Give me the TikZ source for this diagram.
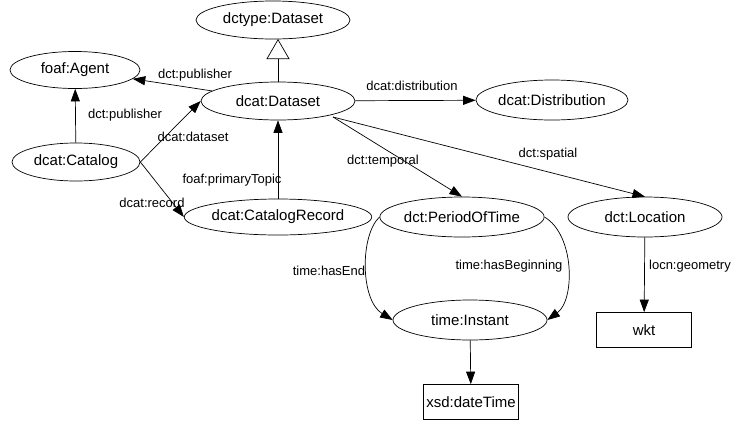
\documentclass[tikz,border=0pt]{standalone}
\usepackage{fontspec}
\setmainfont{Liberation Sans}
\usetikzlibrary{arrows.meta,shapes.geometric}
\begin{document}
\begin{tikzpicture}[x=1pt,y=-1pt,
  ell/.style={draw,ellipse,line width=0.7pt,inner sep=0pt,font=\fontsize{15}{17}\selectfont},
  rbox/.style={draw,rectangle,line width=0.7pt,inner sep=0pt,minimum width=95pt,minimum height=35pt,font=\fontsize{15}{17}\selectfont},
  edge/.style={line width=0.7pt,-{Triangle[length=12.5pt,width=9pt]}},
  lbl/.style={font=\fontsize{13}{15}\selectfont,inner sep=0pt}]
\useasboundingbox (0,0) rectangle (732,421);
\node[ell,minimum width=154pt,minimum height=38pt] (dctype) at (273,20) {dctype:Dataset};
\node[ell,minimum width=130pt,minimum height=37pt] (agent) at (75,70) {foaf:Agent};
\node[ell,minimum width=154pt,minimum height=38pt] (dataset) at (278,101) {dcat:Dataset};
\node[ell,minimum width=128pt,minimum height=38pt] (catalog) at (76,162) {dcat:Catalog};
\node[ell,minimum width=152pt,minimum height=36pt] (record) at (278,217) {dcat:CatalogRecord};
\node[ell,minimum width=152pt,minimum height=40pt] (distr) at (552,100) {dcat:Distribution};
\node[ell,minimum width=152pt,minimum height=40pt] (period) at (462,217) {dct:PeriodOfTime};
\node[ell,minimum width=154pt,minimum height=40pt] (loc) at (645,217) {dct:Location};
\node[ell,minimum width=154pt,minimum height=40pt] (instant) at (470,320) {time:Instant};
\node[rbox] (wkt) at (644,330) {wkt};
\node[rbox] (xsd) at (471,402) {xsd:dateTime};

\draw[line width=0.7pt,-{Triangle[open,length=20pt,width=23pt]}] (dataset.north) -- (278,39);
\draw[edge] (dataset) -- (agent);
\node[lbl] (l1) at (195,75) {dct:publisher};
\draw[edge] (catalog) -- (agent);
\node[lbl] (l2) at (125,115) {dct:publisher};
\draw[edge] (catalog.east) -- (dataset.west);
\node[lbl] (l3) at (193,137) {dcat:dataset};
\draw[edge] (catalog.east) -- (record.west);
\node[lbl] (l4) at (152,203) {dcat:record};
\draw[edge] (record) -- (dataset);
\node[lbl] (l5) at (232,180) {foaf:primaryTopic};
\draw[edge] (dataset) -- (distr);
\node[lbl] (l6) at (412,86) {dcat:distribution};
\coordinate (dse) at (333,117);
\draw[edge] (dse) -- (period.north);
\node[lbl] (l7) at (383,161) {dct:temporal};
\draw[edge] (dse) -- (loc.north);
\node[lbl] (lspat) at (548,154) {dct:spatial};
\draw[edge] (period.west) .. controls (360,235) and (360,300) .. (instant.west);
\node[lbl] (lend) at (329,271) {time:hasEnd};
\draw[edge] (period.east) .. controls (575,235) and (575,300) .. (instant.east);
\node[lbl] (lbeg) at (509,266) {time:hasBeginning};
\draw[edge] (instant) -- (xsd);
\draw[edge] (loc) -- (wkt);
\node[lbl,anchor=east] (lgeo) at (731,266) {locn:geometry};
\end{tikzpicture}
\end{document}
